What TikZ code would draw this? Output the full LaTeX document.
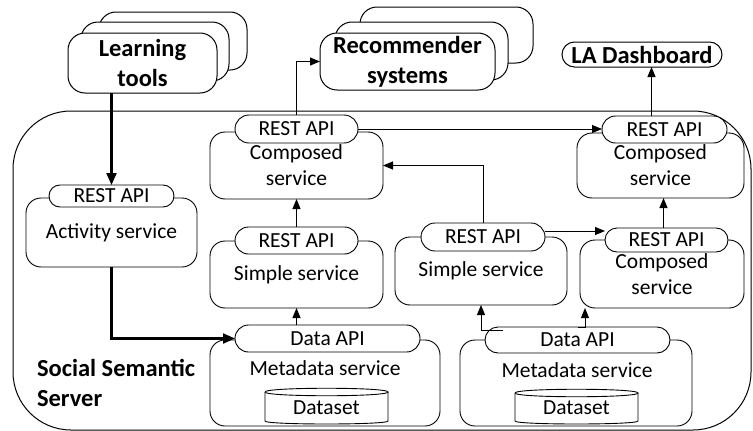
\documentclass[tikz,border=0pt]{standalone}
\usepackage{fontspec}
\setmainfont{Carlito}
\usetikzlibrary{arrows.meta,shapes.misc}
\begin{document}
\begin{tikzpicture}[x=1pt,y=-1pt,
  every node/.style={inner sep=0pt, outer sep=0pt},
  txt/.style={font=\fontsize{21.5}{26}\selectfont, align=center},
  ttl/.style={font=\fontsize{24.5}{30}\selectfont\bfseries, align=center},
  body/.style={draw, line width=0.9pt, rounded corners=15pt, fill=white, txt},
  pill/.style={draw, line width=0.9pt, rounded rectangle, fill=white, txt},
  stackbox/.style={draw, line width=1pt, rounded corners=17pt, fill=white},
  conn/.style={line width=1pt, -{Triangle[length=10pt,width=8pt]}},
  thickconn/.style={line width=2.2pt, -{Triangle[length=12pt,width=10pt]}},
]
\path[use as bounding box, fill=white] (0,0) rectangle (753,431);

% outer server box
\node[draw, line width=1pt, rounded corners=58pt, minimum width=738pt, minimum height=319pt] (sss) at (382,270.5) {};
\node[ttl, align=left, anchor=west] (ssstext) at (37,382.5) {Social Semantic\\Server};

% learning tools stack
\node[stackbox, minimum width=148pt, minimum height=58pt] (ltb) at (173,41) {};
\node[stackbox, minimum width=148pt, minimum height=59pt] (ltm) at (155,51.5) {};
\node[stackbox, ttl, minimum width=149pt, minimum height=60pt] (ltf) at (142.5,63) {Learning\\tools};

% recommender stack
\node[stackbox, minimum width=173pt, minimum height=56pt] (rb) at (446.5,35) {};
\node[stackbox, minimum width=173pt, minimum height=58pt] (rm) at (421.5,51) {};
\node[stackbox, ttl, minimum width=175pt, minimum height=57pt] (rf) at (407.5,61.5) {Recommender\\systems};

% LA dashboard
\node[draw, line width=1pt, rounded rectangle, ttl, minimum width=160pt, minimum height=25pt] (la) at (642,54.5) {LA Dashboard};

% activity service
\node[body, minimum width=171pt, minimum height=69pt] (ab) at (111.5,232.5) {Activity service};
\node[pill, minimum width=125pt, minimum height=22pt] (ap) at (111.5,196) {REST API};

% composed service left
\node[body, minimum width=173pt, minimum height=67pt] (clb) at (296.5,165.5) {Composed\\service};
\node[pill, minimum width=123pt, minimum height=28pt] (clp) at (296.5,129) {REST API};

% simple service left
\node[body, minimum width=173pt, minimum height=67pt] (slb) at (296.5,274.5) {Simple service};
\node[pill, minimum width=123pt, minimum height=27pt] (slp) at (296.5,240.5) {REST API};

% metadata service left
\node[body, minimum width=230pt, minimum height=86pt] (mlb) at (325,383) {};
\node[pill, minimum width=185pt, minimum height=27pt] (mlp) at (327.5,338.5) {Data API};
\node[txt] (mlt) at (325,368) {Metadata service};
\draw[line width=0.9pt, fill=white] (265,392) -- (265,421) .. controls (265,425) and (388,425) .. (388,421) -- (388,392);
\draw[line width=0.9pt] (265,392) .. controls (265,387) and (388,387) .. (388,392) .. controls (388,397) and (265,397) .. (265,392);
\node[txt] (dsl) at (326.5,408) {Dataset};

% simple service middle
\node[body, minimum width=172pt, minimum height=68pt] (smb) at (481,271) {Simple service};
\node[pill, minimum width=124pt, minimum height=28pt] (smp) at (483,237) {REST API};

% composed service right lower
\node[body, minimum width=164pt, minimum height=68pt] (crlb) at (662,274) {Composed\\service};
\node[pill, minimum width=123pt, minimum height=24pt] (crlp) at (666.5,240) {REST API};

% composed service right upper
\node[body, minimum width=167pt, minimum height=65pt] (crub) at (660.5,165.5) {Composed\\service};
\node[pill, minimum width=125pt, minimum height=27pt] (crup) at (664.5,129.5) {REST API};

% metadata service right
\node[body, minimum width=232pt, minimum height=86pt] (mrb) at (576,383) {};
\node[pill, minimum width=185pt, minimum height=26pt] (mrp) at (577.5,340) {Data API};
\node[txt] (mrt) at (577,370) {Metadata service};
\draw[line width=0.9pt, fill=white] (515,393) -- (515,421) .. controls (515,425) and (638,425) .. (638,421) -- (638,393);
\draw[line width=0.9pt] (515,393) .. controls (515,388) and (638,388) .. (638,393) .. controls (638,398) and (515,398) .. (515,393);
\node[txt] (dsr) at (576.5,408) {Dataset};

% connectors
\draw[thickconn] (ltf.south -| ap.north) -- (ap.north);
\draw[thickconn] (ab.south) |- (mlp.west);
\draw[conn] (clp.north) |- (rf.west);
\draw[conn] (clp.east) -- (clp.east -| crup.west);
\draw[conn] (smp.north) |- (clb.east);
\draw[conn] ([yshift=6pt]smp.east) -- ([yshift=6pt]smp.east -| crlp.west);
\draw[conn] (slp.north) -- (clb.south);
\draw[conn] (slb.south |- mlp.north) -- (slb.south);
\draw[conn] ([xshift=5pt,yshift=-3pt]mrp.north west) -| (smb.south);
\draw[conn] (mrp.north) -| ([xshift=5pt]crlb.south west);
\draw[conn] ([xshift=-3pt]crlp.north) -- ([xshift=-3pt]crlp.north |- crub.south);
\draw[conn] ([xshift=-13pt]crup.north) -- ([xshift=-13pt]crup.north |- la.south);
\end{tikzpicture}
\end{document}
